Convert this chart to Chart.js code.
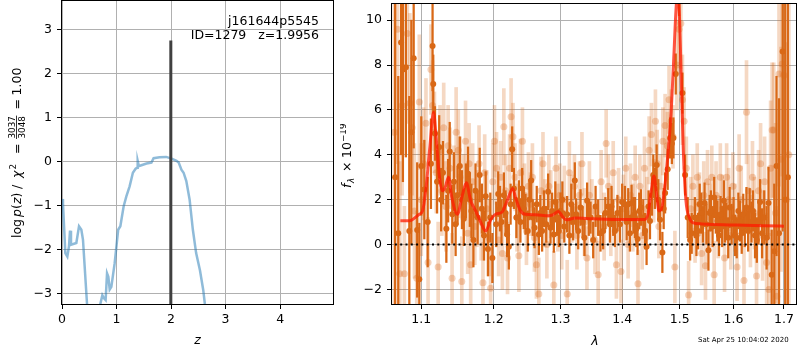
<!DOCTYPE html>
<html><head><meta charset="utf-8">
<script src="https://cdn.jsdelivr.net/npm/chart.js@4/dist/chart.umd.min.js"></script>
<style>
html,body{margin:0;padding:0;background:#fff;width:800px;height:350px;overflow:hidden}
#c1{position:absolute;left:0;top:0;width:340px;height:350px}
#c2{position:absolute;left:340px;top:0;width:460px;height:350px}
</style></head><body>
<canvas id="c1" width="340" height="350"></canvas>
<canvas id="c2" width="460" height="350"></canvas>
<script>
// ---------- p(z) panel data ----------
const zGrid = [0.0,0.018,0.061,0.098,0.128,0.147,0.165,0.263,0.312,0.355,0.385,0.459,0.52,0.62,0.703,0.74,0.77,0.80,0.826,0.85,0.875,0.905,0.966,1.03,1.07,1.13,1.18,1.24,1.30,1.35,1.376,1.388,1.41,1.456,1.55,1.64,1.68,1.79,1.91,2.01,2.10,2.14,2.19,2.23,2.28,2.34,2.40,2.46,2.53,2.59,2.62,2.75,3.0,3.5,4.0,4.5,5.0];
const logPz = [-0.85,-0.95,-2.08,-2.16,-1.93,-1.57,-1.89,-1.85,-1.47,-1.55,-1.78,-3.24,-4.2,-4.4,-3.24,-3.04,-3.11,-3.15,-2.54,-2.62,-2.91,-2.85,-2.31,-1.55,-1.47,-1.02,-0.79,-0.56,-0.25,-0.16,-0.14,0.02,-0.10,-0.08,-0.04,-0.02,0.08,0.10,0.11,0.07,0.02,-0.02,-0.18,-0.25,-0.44,-0.86,-1.55,-2.08,-2.47,-2.92,-3.24,-4.2,-6,-9,-12,-15,-18];
const zBest = 1.9956;
const zBestTop = 2.76;
const zTicks = [0,1,2,3,4];
const logPTicks = [-3,-2,-1,0,1,2,3];

// ---------- spectrum panel data ----------
const lamTicks = [1.1,1.2,1.3,1.4,1.5,1.6,1.7];
const fluxTicks = [-2,0,2,4,6,8,10];

const lamM = [1.0727,1.0843,1.0974,1.1017,1.1062,1.1115,1.1163,1.1195,1.1239,1.1283,1.132,1.1364,1.141,1.1487,1.1556,1.1611,1.1672,1.1742,1.1813,1.1884,1.1955,1.2026,1.2121,1.2194,1.2277,1.2317,1.2391,1.2465,1.2615,1.2812,1.2889,1.2966,1.3044,1.3095,1.3228,1.3521,1.40,1.4383,1.444,1.4497,1.4544,1.4584,1.4631,1.4671,1.4731,1.4789,1.4847,1.4894,1.4935,1.4965,1.4996,1.5024,1.5067,1.5114,1.5175,1.5235,1.54,1.58,1.62,1.66,1.70];
const fluxM = [1.06,1.06,1.35,1.5,2.5,4.4,5.9,4.9,3.1,2.4,2.55,3.0,2.1,1.35,2.2,2.75,1.95,1.5,1.0,0.6,1.1,1.35,1.45,1.95,2.5,2.1,1.5,1.35,1.33,1.28,1.33,1.47,1.2,1.1,1.18,1.15,1.12,1.12,1.35,2.4,3.05,2.35,1.5,1.55,2.5,4.0,5.9,8.3,10.5,11.3,10.2,7.8,4.1,1.95,1.2,0.98,0.92,0.88,0.86,0.84,0.82];

const lamD = [
1.066,1.070,1.0736,1.076,1.0798,1.0843,1.087,1.090,1.0946,1.0974,
1.100,1.104,1.1085,1.1128,1.115,1.1159,1.1182,1.121,1.1239,1.1265,
1.129,1.1336,1.136,1.1382,1.1417,1.144,1.1463,1.149,1.1521,1.155,
1.1576,1.1605,1.1635,1.166,1.1682,1.171,1.174,1.177,1.1799,1.183,
1.186,1.1884,1.1916,1.195,1.198,1.2035,1.2064,1.209,1.2112,1.2146,
1.217,1.2194,1.2219,1.2245,1.2268,1.2293,1.233,1.2367,1.239,1.2416,
1.244,1.2466,1.250,1.2525,1.2551,1.2575,1.2602,1.2635,1.2667,1.269,
1.2717,1.2745,1.278,1.2809,1.2846,1.287,1.2897,1.292,1.2948,1.2975,
1.3001,1.303,1.306,1.3105,1.314,1.317,1.320,1.3226,1.3247,1.328,
1.3317,1.335,1.338,1.3423,1.345,1.3478,1.3521,1.356,1.3602,1.364,
1.3684,1.372,1.3767,1.3795,1.3822,1.385,1.3878,1.392,1.3962,1.400,
1.4046,1.4075,1.4102,1.413,1.4158,1.419,1.4216,1.424,1.4261,1.429,
1.4319,1.4359,1.439,1.4416,1.445,1.4475,1.451,1.4533,1.456,1.4591,
1.462,1.4651,1.4692,1.4715,1.474,1.4786,1.4829,1.486,1.4888,1.493,
1.499,1.505,1.5098,1.5146,1.5189,1.5218,1.5277,1.5305,1.5335,1.5365,
1.5394,1.5425,1.5455,1.549,1.5527,1.555,1.5573,1.5605,1.5635,1.5665,
1.5695,1.5725,1.5755,1.5785,1.5817,1.584,1.5865,1.590,1.5928,1.5965,
1.6002,1.603,1.6064,1.6095,1.6126,1.616,1.619,1.622,1.6252,1.6285,
1.6315,1.635,1.638,1.642,1.6456,1.649,1.652,1.656,1.6603,1.665,
1.6688,1.6752,1.6804,1.6849,1.690,1.6973,1.7026,1.708];
const fluxD = [
3.0,0.5,9.0,7.8,7.9,0.6,5.0,8.3,0.65,-1.55,
3.5,2.45,1.0,3.6,8.85,7.15,4.95,2.8,4.35,2.0,
3.2,0.7,2.4,4.15,1.35,2.8,0.9,2.2,3.5,2.0,
1.15,2.4,3.15,2.0,1.5,0.2,2.4,1.2,3.1,1.6,
0.4,2.15,-0.2,1.2,-0.6,0.9,2.25,1.6,1.0,2.2,
1.4,0.45,-0.1,1.8,4.25,2.5,1.2,1.95,1.0,2.5,
1.6,1.35,0.6,2.0,2.85,1.2,0.75,1.8,0.45,1.4,
0.6,1.6,0.9,2.35,0.75,1.5,0.45,1.9,1.2,0.6,
1.5,2.0,0.8,1.35,0.4,1.8,1.0,2.85,1.35,0.6,
1.65,1.0,0.3,1.95,1.2,1.2,0.2,1.7,1.2,0.5,
0.6,1.4,1.7,0.9,1.7,1.2,0.6,1.4,0.9,1.9,
1.8,1.0,1.8,0.5,1.85,1.3,1.2,0.7,0.25,1.5,
1.65,1.2,0.6,-0.1,1.7,1.05,2.2,3.1,2.5,3.55,
2.0,1.1,-0.35,1.6,2.3,3.35,4.75,4.5,4.75,7.6,
11.2,6.75,3.1,1.2,0.2,0.5,1.2,0.4,0.6,1.8,
1.4,0.9,1.85,0.9,-0.25,1.4,1.5,0.8,2.1,1.3,
1.05,0.4,1.35,0.8,1.95,1.0,1.05,0.3,1.65,0.9,
1.2,0.4,0.3,1.5,1.05,0.5,1.35,0.8,1.65,0.6,
1.6,1.0,1.5,0.4,0.2,1.0,1.9,0.5,1.2,0.3,
1.85,-1.35,-0.3,3.5,0.5,8.6,2.0,3.0];
const errD = [
9,7,5,5,4,6,5,4,3,2.5,
2.2,2.2,2.0,2.0,2.0,1.3,1.2,1.4,1.4,1.4,
1.4,1.5,1.4,1.3,1.3,1.3,1.4,1.3,1.3,1.3,
1.2,1.2,1.2,1.2,1.2,1.2,1.2,1.2,1.2,1.1,
1.1,1.1,1.2,1.1,1.1,1.0,1.0,1.0,1.0,1.0,
1.0,1.0,1.0,0.9,1.0,0.9,0.9,0.9,0.9,0.9,
0.9,0.9,0.9,0.9,0.9,0.8,0.9,0.8,0.9,0.8,
0.9,0.8,0.8,0.8,0.7,0.8,0.8,0.9,0.8,0.7,
0.8,0.8,0.7,0.8,0.8,0.9,0.8,0.8,0.7,0.8,
0.8,0.7,0.8,0.8,0.8,0.7,0.8,0.9,0.8,0.8,
0.8,0.7,0.8,0.8,0.9,0.8,0.7,0.8,0.8,0.8,
0.8,0.8,0.7,0.8,0.8,0.8,0.9,0.8,0.7,0.8,
0.8,0.8,0.8,0.8,0.7,0.8,0.9,0.9,0.9,0.9,
0.9,0.9,0.9,0.9,0.9,0.9,0.9,0.9,0.9,0.9,
1.0,0.9,0.9,0.9,0.9,0.9,0.9,0.9,0.8,0.9,
0.9,0.8,0.9,0.9,0.9,0.8,0.9,0.9,0.9,0.8,
0.9,0.9,0.8,0.9,0.9,0.9,0.8,0.9,0.9,0.9,
0.9,0.9,0.9,0.8,0.9,0.9,0.9,0.9,0.9,0.9,
0.9,0.9,0.9,1.0,1.0,1.0,1.0,1.1,1.2,1.4,
1.6,2.0,3.0,4.0,6.0,8.0,10,12];

const lamL = [
1.065,1.0689,1.072,1.075,1.0779,1.0817,1.085,1.088,1.091,1.094,
1.0974,1.100,1.103,1.1062,1.109,1.1128,1.115,1.1175,1.120,1.1225,
1.125,1.1275,1.130,1.133,1.136,1.1385,1.1414,1.144,1.147,1.150,
1.1525,1.1548,1.1575,1.160,1.163,1.165,1.1672,1.170,1.173,1.176,
1.179,1.182,1.1845,1.187,1.190,1.193,1.1955,1.1985,1.201,1.204,
1.207,1.210,1.2125,1.2146,1.217,1.220,1.223,1.2252,1.228,1.231,
1.234,1.2367,1.239,1.242,1.245,1.248,1.251,1.254,1.257,1.260,
1.263,1.2667,1.270,1.273,1.276,1.279,1.282,1.285,1.2897,1.293,
1.296,1.299,1.302,1.306,1.3106,1.314,1.318,1.322,1.326,1.330,
1.334,1.338,1.342,1.346,1.350,1.355,1.3602,1.365,1.370,1.3733,
1.377,1.381,1.385,1.3903,1.394,1.398,1.402,1.406,1.410,1.414,
1.418,1.422,1.4268,1.430,1.434,1.438,1.442,1.446,1.450,1.454,
1.457,1.460,1.463,1.466,1.470,1.474,1.478,1.481,1.485,1.488,
1.4914,1.495,1.499,1.5021,1.505,1.508,1.512,1.5162,1.520,1.524,
1.528,1.532,1.536,1.540,1.544,1.5472,1.551,1.555,1.559,1.5634,
1.567,1.571,1.575,1.579,1.583,1.587,1.591,1.595,1.599,1.603,
1.607,1.611,1.615,1.6204,1.6253,1.629,1.633,1.637,1.641,1.645,
1.649,1.653,1.657,1.661,1.665,1.6696,1.673,1.676,1.6793,1.683,
1.6857,1.690,1.694,1.6963,1.700,1.705,1.710];
const fluxL = [
5.0,9.6,-1.3,6.2,-1.3,9.4,6.3,5.2,1.5,-1.5,
6.35,2.0,3.6,5.4,-0.8,7.8,6.2,5.0,3.2,-1.0,
4.2,2.4,5.2,1.7,4.4,3.4,-1.5,2.6,5.0,4.2,
3.0,-1.65,2.2,4.6,0.5,3.6,-0.9,2.8,0.8,1.6,
3.6,1.0,-1.7,3.2,1.6,0.3,-1.95,2.8,4.6,3.4,
0.2,3.0,-0.4,5.25,2.4,-0.6,3.4,5.7,4.8,3.0,
1.2,-0.5,3.2,4.6,2.2,0.6,2.6,1.8,3.0,0.3,
-0.9,-2.2,2.4,3.6,1.4,0.0,2.6,1.8,-1.8,3.4,
1.2,2.2,0.4,2.0,-2.2,3.2,1.6,2.6,0.4,2.2,
3.6,1.0,-0.6,2.2,1.5,0.2,-1.35,2.8,0.8,4.5,
2.6,1.0,3.2,-0.9,2.0,-1.2,1.6,3.4,0.0,2.2,
1.2,3.0,-1.75,2.6,0.4,3.4,1.6,4.2,4.9,2.4,
5.5,3.6,0.8,2.6,4.6,5.3,4.4,6.45,5.5,4.8,
-1.0,8.0,9.6,9.85,6.45,5.5,3.4,-2.25,1.6,2.6,
0.6,3.0,1.8,-0.4,2.2,-0.95,2.8,1.2,3.0,-1.35,
2.2,0.8,3.0,1.6,-0.6,3.0,2.0,0.4,2.6,1.2,
-1.0,3.4,2.0,-1.6,5.9,2.4,0.6,3.0,1.4,-1.4,
2.4,3.6,0.4,2.8,-0.8,-2.0,3.4,5.1,5.1,1.4,
-2.3,7.6,3.8,8.05,7.55,2.0,4.0];
const errL = [
8,6,5,4,3,4,4,3,3,3,
3,2.5,2.5,2,2,2,2,1.8,1.8,2,
2,2,2,2,1.8,1.8,2,1.8,2,1.8,
1.8,2,1.8,1.8,1.8,1.8,2,1.7,1.7,1.7,
1.7,1.7,1.8,1.7,1.7,1.7,1.8,1.7,1.6,1.6,
1.6,1.6,1.6,1.7,1.6,1.6,1.5,1.7,1.5,1.5,
1.5,1.6,1.5,1.5,1.4,1.5,1.5,1.4,1.5,1.5,
1.5,1.6,1.5,1.4,1.5,1.5,1.4,1.5,1.5,1.4,
1.5,1.4,1.5,1.5,1.5,1.4,1.5,1.4,1.5,1.5,
1.4,1.5,1.4,1.5,1.4,1.5,1.5,1.4,1.5,1.5,
1.4,1.5,1.4,1.5,1.4,1.4,1.5,1.4,1.5,1.4,
1.5,1.4,1.5,1.4,1.5,1.4,1.4,1.5,1.4,1.4,
1.4,1.5,1.4,1.4,1.5,1.4,1.5,1.5,1.4,1.4,
1.6,2,2,2,2,1.5,1.4,1.5,1.4,1.4,
1.4,1.5,1.4,1.4,1.5,1.5,1.4,1.5,1.4,1.5,
1.5,1.4,1.5,1.5,1.5,1.5,1.4,1.5,1.5,1.5,
1.5,1.5,1.5,1.6,2.3,1.6,1.6,1.6,1.6,1.7,
1.8,1.8,2,2,2.2,2.5,3,3,3,4,
4,5,5,5,6,7,8];

// ---------- helpers ----------
const FONT = "'DejaVu Sans', sans-serif";
Chart.defaults.font.family = FONT;
Chart.defaults.font.size = 12.5;
Chart.defaults.color = '#000';

const fixTicks = vals => scale => { scale.ticks = vals.map(v => ({value: v})); };
const minus = s => String(s).replace('-', '\u2212');
const DARK = 'rgb(217,104,22)';
const LIGHT = 'rgba(217,104,22,0.26)';
const LIGHTPT = 'rgba(217,104,22,0.3)';

function axisOpts(extra) {
  return Object.assign({
    grid: {color: '#b0b0b0', lineWidth: 1, tickColor: '#000', tickLength: 5, tickWidth: 1, offset: false},
    border: {display: false},
  }, extra);
}
const fitX = s => { s.height = 46; s.paddingLeft = 0; s.paddingRight = 0; };
const fitY = w => s => { s.width = w; s.paddingTop = 0; s.paddingBottom = 0; };

const framePlugin = {
  id: 'frame',
  afterDraw(chart) {
    const a = chart.chartArea, ctx = chart.ctx;
    ctx.save();
    ctx.strokeStyle = '#000'; ctx.lineWidth = 1;
    ctx.strokeRect(Math.round(a.left) - 0.5, Math.round(a.top) - 0.5, Math.round(a.right - a.left) + 1, Math.round(a.bottom - a.top) + 1);
    ctx.restore();
  }
};

// draw a label made of runs; each run has a fixed offset "at" along the (rotated) baseline
function drawRuns(ctx, runs, ox, oy, rot) {
  ctx.save();
  ctx.translate(ox, oy); ctx.rotate(rot);
  ctx.fillStyle = '#000'; ctx.textBaseline = 'alphabetic';
  runs.forEach(r => {
    ctx.font = r.font;
    if (r.frac) {
      const w = Math.max(ctx.measureText(r.frac[0]).width, ctx.measureText(r.frac[1]).width) + 2;
      ctx.textAlign = 'center';
      ctx.fillText(r.frac[0], r.at + w / 2, -6.5);
      ctx.fillText(r.frac[1], r.at + w / 2, 3.8);
      ctx.fillRect(r.at + 0.5, -4.8, w - 1, 0.8);
    } else {
      ctx.textAlign = 'left';
      ctx.fillText(r.t, r.at, r.dy || 0);
    }
  });
  ctx.restore();
}

const REG = "12.5px " + FONT, ITA = "italic 12.5px " + FONT;
const SMALL = "8.8px " + FONT, SMALLI = "italic 8.8px " + FONT;

const leftText = {
  id: 'leftText',
  afterDraw(chart) {
    const ctx = chart.ctx;
    ctx.save();
    ctx.fillStyle = '#000'; ctx.font = REG; ctx.textAlign = 'right'; ctx.textBaseline = 'alphabetic';
    ctx.fillText('j161644p5545', 319, 24.5);
    ctx.fillText('ID=1279   z=1.9956', 319, 38.5);
    ctx.font = ITA; ctx.textAlign = 'center';
    ctx.fillText('z', 197.5, 343.5);
    ctx.restore();
    drawRuns(ctx, [
      {t: 'log', font: REG, at: 0},
      {t: 'p', font: ITA, at: 21}, {t: '(', font: REG, at: 29}, {t: 'z', font: ITA, at: 34}, {t: ')', font: REG, at: 40.5},
      {t: '/', font: REG, at: 49},
      {t: 'χ', font: ITA, at: 60}, {t: '2', font: SMALL, at: 68.5, dy: -5},
      {t: '=', font: REG, at: 84},
      {frac: ['3037', '3048'], font: SMALL, at: 98.5},
      {t: '=', font: REG, at: 128.5},
      {t: '1.00', font: REG, at: 142.5}
    ], 21, 238, -Math.PI / 2);
  }
};

const rightText = {
  id: 'rightText',
  afterDraw(chart) {
    const ctx = chart.ctx;
    ctx.save();
    ctx.fillStyle = '#000'; ctx.font = ITA; ctx.textAlign = 'center'; ctx.textBaseline = 'alphabetic';
    ctx.fillText('λ', 255, 345);
    ctx.font = "7px " + FONT; ctx.textAlign = 'left';
    ctx.fillText('Sat Apr 25 10:04:02 2020', 358, 342);
    ctx.restore();
    drawRuns(ctx, [
      {t: 'f', font: ITA, at: 0}, {t: 'λ', font: SMALLI, at: 5, dy: 3},
      {t: '×', font: REG, at: 16}, {t: '10', font: REG, at: 30}, {t: '−19', font: SMALL, at: 46, dy: -5}
    ], 11, 188, -Math.PI / 2);
  }
};

// ---------- left chart: p(z) ----------
new Chart(document.getElementById('c1'), {
  type: 'line',
  data: {
    datasets: [
      {data: [{x: zBest, y: -10}, {x: zBest, y: zBestTop}], borderColor: '#404040', borderWidth: 3, pointRadius: 0, clip: 0},
      {data: zGrid.map((z, i) => ({x: z, y: logPz[i]})), borderColor: 'rgba(31,119,180,0.5)', borderWidth: 2.5, pointRadius: 0, tension: 0, clip: 0}
    ]
  },
  options: {
    responsive: false, animation: false, devicePixelRatio: 1,
    layout: {padding: {left: 0, right: 7, top: 1, bottom: 0}},
    plugins: {legend: {display: false}, tooltip: {enabled: false}},
    scales: {
      x: axisOpts({type: 'linear', min: 0, max: 4.97, afterBuildTicks: fixTicks(zTicks), afterFit: fitX,
        ticks: {padding: 3, autoSkip: false, maxRotation: 0, callback: v => minus(v)}}),
      y: axisOpts({type: 'linear', min: -3.24, max: 3.66, afterBuildTicks: fixTicks(logPTicks), afterFit: fitY(62),
        ticks: {padding: 5, autoSkip: false, callback: v => minus(v)}})
    }
  },
  plugins: [framePlugin, leftText]
});

// ---------- right chart: spectrum ----------
new Chart(document.getElementById('c2'), {
  type: 'line',
  data: {
    datasets: [
      {data: [{x: 1.0, y: 0}, {x: 1.8, y: 0}], borderColor: '#000', borderWidth: 2, borderDash: [2, 3.3], pointRadius: 0, clip: 0},
      {data: lamM.map((l, i) => ({x: l, y: fluxM[i]})), borderColor: 'rgba(255,25,0,0.75)', borderWidth: 3, pointRadius: 0, cubicInterpolationMode: 'monotone', clip: 0},
      {data: lamD.map((l, i) => ({x: l, y: fluxD[i]})), showLine: false, pointRadius: 3, pointBackgroundColor: DARK, pointBorderWidth: 0, clip: 0},
      {type: 'bar', data: lamD.map((l, i) => ({x: l, y: [fluxD[i] - errD[i], fluxD[i] + errD[i]]})), backgroundColor: DARK, borderWidth: 0, barThickness: 1.6, grouped: false, clip: 0},
      {data: lamL.map((l, i) => ({x: l, y: fluxL[i]})), showLine: false, pointRadius: 3.5, pointBackgroundColor: LIGHTPT, pointBorderWidth: 0, clip: 0},
      {type: 'bar', data: lamL.map((l, i) => ({x: l, y: [fluxL[i] - errL[i], fluxL[i] + errL[i]]})), backgroundColor: LIGHT, borderWidth: 0, barThickness: 3, grouped: false, clip: 0}
    ]
  },
  options: {
    responsive: false, animation: false, devicePixelRatio: 1,
    layout: {padding: {left: 0, right: 1, top: 1, bottom: 0}},
    plugins: {legend: {display: false}, tooltip: {enabled: false}},
    scales: {
      x: axisOpts({type: 'logarithmic', min: 1.062, max: 1.7248, offset: false, afterBuildTicks: fixTicks(lamTicks), afterFit: fitX,
        ticks: {padding: 3, autoSkip: false, maxRotation: 0, callback: v => Number(v).toFixed(1)}}),
      y: axisOpts({type: 'linear', min: -2.65, max: 10.72, afterBuildTicks: fixTicks(fluxTicks), afterFit: fitY(52),
        ticks: {padding: 5, autoSkip: false, callback: v => minus(v)}})
    }
  },
  plugins: [framePlugin, rightText]
});
</script>
</body></html>
